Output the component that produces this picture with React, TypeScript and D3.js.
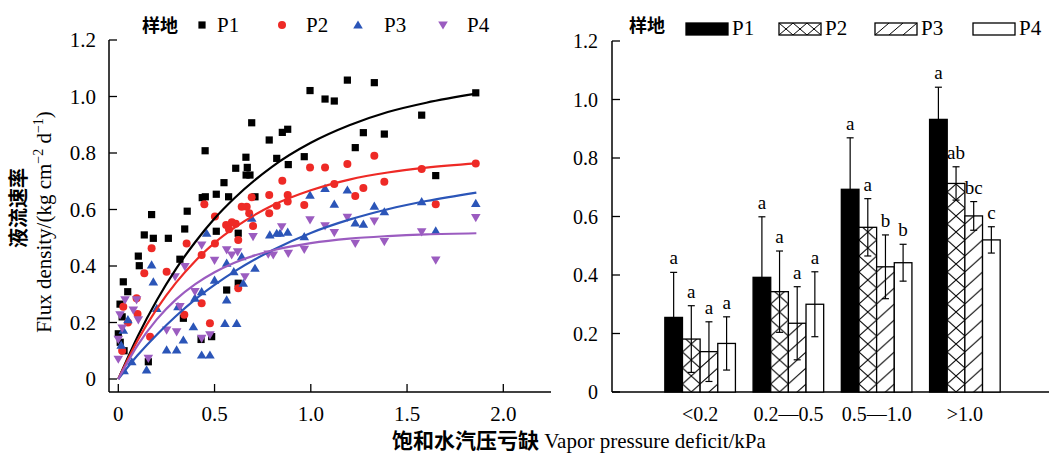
import React from 'react';
import * as d3 from 'd3';

// ---------------- Data ----------------
const seriesNames = ['P1', 'P2', 'P3', 'P4'];
const seriesColors = ['#000000', '#ee2a26', '#2b55b8', '#9b5cc0'];

// scatter: [VPD kPa, flux density]
const p1Points: [number, number][] = [
  [1.857, 1.013], [1.649, 0.72], [1.576, 0.934], [1.382, 0.867], [1.33, 1.049], [1.273, 0.872],
  [1.231, 0.819], [1.19, 1.058], [1.122, 0.984], [1.074, 0.991], [0.996, 1.021], [0.966, 0.787],
  [0.883, 0.759], [0.88, 0.884], [0.852, 0.873], [0.823, 0.781], [0.784, 0.846], [0.71, 0.645],
  [0.693, 0.907], [0.684, 0.722], [0.664, 0.722], [0.67, 0.749], [0.663, 0.785], [0.61, 0.746],
  [0.549, 0.695], [0.573, 0.645], [0.509, 0.654], [0.451, 0.808], [0.436, 0.642], [0.452, 0.645],
  [0.358, 0.594], [0.345, 0.531], [0.509, 0.523], [0.623, 0.516], [0.173, 0.582], [0.135, 0.51],
  [0.182, 0.498], [0.26, 0.498], [0.104, 0.435], [0.109, 0.401], [0.32, 0.424], [0.026, 0.344],
  [0.049, 0.309], [0.009, 0.265], [0.0, 0.16], [0.01, 0.13], [0.02, 0.22], [0.156, 0.061],
  [0.338, 0.215], [0.563, 0.315], [0.623, 0.339], [0.485, 0.15], [0.43, 0.14], [0.03, 0.1],
];
const p2Points: [number, number][] = [
  [1.857, 0.763], [1.649, 0.619], [1.576, 0.743], [1.382, 0.698], [1.33, 0.79], [1.273, 0.676],
  [1.231, 0.648], [1.19, 0.761], [1.122, 0.69], [1.074, 0.749], [0.996, 0.749], [0.966, 0.616],
  [0.88, 0.651], [0.88, 0.628], [0.852, 0.702], [0.823, 0.613], [0.784, 0.651], [0.784, 0.587],
  [0.693, 0.643], [0.70, 0.542], [0.667, 0.61], [0.68, 0.587], [0.641, 0.61], [0.61, 0.55],
  [0.59, 0.555], [0.56, 0.545], [0.575, 0.53], [0.502, 0.575], [0.447, 0.619], [0.623, 0.492],
  [0.502, 0.48], [0.433, 0.439], [0.355, 0.48], [0.173, 0.463], [0.135, 0.374], [0.251, 0.38],
  [0.095, 0.286], [0.026, 0.256], [0.433, 0.268], [0.476, 0.197], [0.165, 0.15], [0.343, 0.227],
  [0.623, 0.321], [0.02, 0.1], [0.05, 0.2], [0.1, 0.23],
];
const p3Points: [number, number][] = [
  [1.857, 0.622], [1.649, 0.524], [1.576, 0.628], [1.382, 0.592], [1.33, 0.612], [1.273, 0.548],
  [1.231, 0.553], [1.19, 0.669], [1.122, 0.619], [1.074, 0.675], [0.996, 0.651], [0.966, 0.504],
  [0.88, 0.52], [0.84, 0.516], [0.823, 0.516], [0.787, 0.51], [0.693, 0.569], [0.71, 0.392],
  [0.649, 0.339], [0.641, 0.433], [0.563, 0.41], [0.459, 0.516], [0.173, 0.404], [0.182, 0.344],
  [0.398, 0.286], [0.433, 0.309], [0.31, 0.256], [0.39, 0.185], [0.554, 0.197], [0.615, 0.197],
  [0.563, 0.28], [0.251, 0.103], [0.303, 0.103], [0.147, 0.032], [0.433, 0.085], [0.476, 0.085],
  [0.338, 0.138], [0.07, 0.061], [0.03, 0.03], [0.026, 0.173], [0.015, 0.12], [0.05, 0.21],
  [0.2, 0.25], [0.5, 0.35], [0.6, 0.38],
];
const p4Points: [number, number][] = [
  [1.857, 0.571], [1.649, 0.421], [1.576, 0.521], [1.382, 0.486], [1.33, 0.559], [1.231, 0.48],
  [1.19, 0.572], [1.122, 0.518], [1.074, 0.542], [0.996, 0.563], [0.966, 0.459], [0.883, 0.445],
  [0.849, 0.539], [0.805, 0.439], [0.779, 0.442], [0.70, 0.504], [0.658, 0.362], [0.563, 0.457],
  [0.589, 0.439], [0.433, 0.474], [0.346, 0.398], [0.295, 0.362], [0.398, 0.309], [0.32, 0.256],
  [0.251, 0.173], [0.303, 0.167], [0.433, 0.144], [0.476, 0.156], [0.156, 0.073], [0.035, 0.28],
  [0.095, 0.28], [0.078, 0.244], [0.104, 0.209], [0.009, 0.227], [0.0, 0.14], [0.0, 0.07],
  [0.02, 0.18], [0.5, 0.42], [0.62, 0.45],
];

// fitted curves
const curveX = [0, 0.1, 0.2, 0.3, 0.4, 0.5, 0.6, 0.8, 1.0, 1.2, 1.4, 1.6, 1.86];
const p1Curve = [0, 0.15, 0.279, 0.39, 0.485, 0.568, 0.638, 0.752, 0.836, 0.898, 0.945, 0.978, 1.01];
const p2Curve = [0, 0.136, 0.248, 0.341, 0.418, 0.482, 0.534, 0.614, 0.668, 0.706, 0.731, 0.748, 0.763];
const p3Curve = [0, 0.084, 0.157, 0.223, 0.282, 0.333, 0.379, 0.456, 0.517, 0.564, 0.601, 0.63, 0.66];
const p4Curve = [0, 0.119, 0.211, 0.282, 0.336, 0.378, 0.411, 0.455, 0.481, 0.497, 0.506, 0.512, 0.516];

const xTicksLeft = [0, 0.5, 1.0, 1.5, 2.0];
const yTicks = [0, 0.2, 0.4, 0.6, 0.8, 1.0, 1.2];

// bar chart
const categories = ['<0.2', '0.2—0.5', '0.5—1.0', '>1.0'];
const barP1 = [0.255, 0.392, 0.693, 0.932];
const barP2 = [0.181, 0.343, 0.563, 0.713];
const barP3 = [0.138, 0.235, 0.428, 0.602];
const barP4 = [0.166, 0.300, 0.442, 0.520];
const errP1 = [0.154, 0.207, 0.176, 0.110];
const errP2 = [0.114, 0.139, 0.098, 0.057];
const errP3 = [0.102, 0.125, 0.109, 0.049];
const errP4 = [0.091, 0.111, 0.063, 0.045];
const letP1 = ['a', 'a', 'a', 'a'];
const letP2 = ['a', 'a', 'a', 'ab'];
const letP3 = ['a', 'a', 'b', 'bc'];
const letP4 = ['a', 'a', 'b', 'c'];

const legendTitle = '样地';
const yTitleCn = '液流速率';
const xTitleCn = '饱和水汽压亏缺';
const xTitleEn = ' Vapor pressure deficit/kPa';

const SERIF = '"Liberation Serif", "Times New Roman", serif';
const CJK = '"Noto Sans CJK SC", sans-serif';
const FS = 21;
const FSR = 20;

function fmt(v: number) {
  return v === 0 ? '0' : v.toFixed(1);
}

function Marker({ kind, x, y, color }: { kind: number; x: number; y: number; color: string }) {
  if (kind === 0) return <rect x={x - 3.6} y={y - 3.6} width={7.2} height={7.2} fill={color} />;
  if (kind === 1) return <circle cx={x} cy={y} r={4} fill={color} />;
  if (kind === 2)
    return <path d={`M${x},${y - 4.6}L${x + 4.8},${y + 3.6}L${x - 4.8},${y + 3.6}Z`} fill={color} />;
  return <path d={`M${x},${y + 4.6}L${x + 4.8},${y - 3.6}L${x - 4.8},${y - 3.6}Z`} fill={color} />;
}

export default function App() {
  // ---------- left scatter ----------
  const xL = d3.scaleLinear().domain([0, 2]).range([118.3, 503.3]);
  const yL = d3.scaleLinear().domain([0, 1.2]).range([379, 40]);
  const axisYL = 392;
  const axisXL = 109;
  const points = [p1Points, p2Points, p3Points, p4Points];
  const curves = [p1Curve, p2Curve, p3Curve, p4Curve];
  const line = d3
    .line<number>()
    .x((_, i) => xL(curveX[i]))
    .y((d) => yL(d))
    .curve(d3.curveMonotoneX);

  // ---------- right bars ----------
  const yR = d3.scaleLinear().domain([0, 1.2]).range([392, 41]);
  const axisXR = 612;
  const xR = d3.scaleBand<string>().domain(categories).range([656, 1009]).paddingInner(0.2).paddingOuter(0.1);
  const xS = d3.scaleBand<string>().domain(seriesNames).range([0, xR.bandwidth()]).padding(0);
  const bw = xS.bandwidth();
  const barVals = [barP1, barP2, barP3, barP4];
  const errVals = [errP1, errP2, errP3, errP4];
  const lets = [letP1, letP2, letP3, letP4];
  const barStart0 = xR(categories[0])!;
  const fills = ['#000', 'url(#crossPat)', 'url(#slashPat)', '#fff'];

  const legendL = [
    { mx: 202, tx: 217 },
    { mx: 282, tx: 306 },
    { mx: 358, tx: 384 },
    { mx: 443, tx: 467 },
  ];
  const legendR = [686, 779, 875, 973];
  const ph = 16;

  return (
    <svg
      width={1049}
      height={454}
      style={{ position: 'absolute', left: 0, top: 0, background: '#fff' }}
      fontFamily={SERIF}
    >
      <defs>
        <pattern id="crossPat" patternUnits="userSpaceOnUse" x={barStart0} y={0} width={bw} height={ph}>
          <rect width={bw} height={ph} fill="#fff" />
          <path d={`M0,0L${bw},${ph}M${bw},0L0,${ph}`} stroke="#000" strokeWidth={1} />
        </pattern>
        <pattern id="slashPat" patternUnits="userSpaceOnUse" x={barStart0} y={0} width={bw} height={ph}>
          <rect width={bw} height={ph} fill="#fff" />
          <path d={`M0,${ph}L${bw},0M${-bw},${ph}L0,0M${bw},${ph}L${2 * bw},0`} stroke="#000" strokeWidth={1} />
        </pattern>
        <pattern id="crossLeg" patternUnits="userSpaceOnUse" x={779} y={23} width={14} height={12}>
          <rect width={14} height={12} fill="#fff" />
          <path d="M0,0L14,12M14,0L0,12" stroke="#000" strokeWidth={1} />
        </pattern>
        <pattern id="slashLeg" patternUnits="userSpaceOnUse" x={875} y={23} width={14} height={12}>
          <rect width={14} height={12} fill="#fff" />
          <path d="M0,12L14,0M-14,12L0,0M14,12L28,0" stroke="#000" strokeWidth={1} />
        </pattern>
      </defs>

      {/* ===== Left panel ===== */}
      <text x={142} y={32} fontFamily={CJK} fontWeight={700} fontSize={18}>
        {legendTitle}
      </text>
      {seriesNames.map((n, i) => (
        <g key={n}>
          <Marker kind={i} x={legendL[i].mx} y={25} color={seriesColors[i]} />
          <text x={legendL[i].tx} y={32} fontSize={FS}>
            {n}
          </text>
        </g>
      ))}

      <line x1={axisXL} x2={axisXL} y1={yL(1.2)} y2={axisYL} stroke="#000" strokeWidth={1.5} />
      <line x1={axisXL} x2={551} y1={axisYL} y2={axisYL} stroke="#000" strokeWidth={1.5} />
      {yTicks.map((t) => (
        <g key={'yl' + t}>
          <line x1={axisXL} x2={axisXL + 8} y1={yL(t)} y2={yL(t)} stroke="#000" strokeWidth={1.3} />
          <text x={axisXL - 13} y={yL(t)} dy="0.35em" textAnchor="end" fontSize={FS}>
            {fmt(t)}
          </text>
        </g>
      ))}
      {xTicksLeft.map((t) => (
        <g key={'xl' + t}>
          <line x1={xL(t)} x2={xL(t)} y1={axisYL} y2={axisYL - 8} stroke="#000" strokeWidth={1.3} />
          <text x={xL(t)} y={414} dy="0.35em" textAnchor="middle" fontSize={FS}>
            {fmt(t)}
          </text>
        </g>
      ))}

      {points.map((pts, si) => (
        <g key={'pts' + si}>
          {pts.map((p, j) => (
            <Marker key={j} kind={si} x={xL(p[0])} y={yL(p[1])} color={seriesColors[si]} />
          ))}
        </g>
      ))}
      {curves.map((c, si) => (
        <path key={'c' + si} d={line(c) || ''} fill="none" stroke={seriesColors[si]} strokeWidth={2.2} />
      ))}

      <g transform="translate(19,208) rotate(-90)">
        <text textAnchor="middle" dy="0.35em" fontFamily={CJK} fontWeight={700} fontSize={20}>
          {yTitleCn}
        </text>
      </g>
      <g transform="translate(44,222) rotate(-90)">
        <text textAnchor="middle" dy="0.35em" fontSize={FS}>
          Flux density/(kg cm
          <tspan dy={-8} fontSize={14}>−2</tspan>
          <tspan dy={8}> d</tspan>
          <tspan dy={-8} fontSize={14}>−1</tspan>
          <tspan dy={8}>)</tspan>
        </text>
      </g>

      <text x={392} y={448} fontSize={21}>
        <tspan fontFamily={CJK} fontWeight={700} fontSize={21}>
          {xTitleCn}
        </tspan>
        <tspan>{xTitleEn}</tspan>
      </text>

      {/* ===== Right panel ===== */}
      <text x={629} y={32} fontFamily={CJK} fontWeight={700} fontSize={18}>
        {legendTitle}
      </text>
      {seriesNames.map((n, i) => (
        <g key={'lr' + n}>
          <rect
            x={legendR[i]}
            y={23}
            width={42}
            height={12}
            fill={i === 0 ? '#000' : i === 1 ? 'url(#crossLeg)' : i === 2 ? 'url(#slashLeg)' : '#fff'}
            stroke="#000"
            strokeWidth={1.3}
          />
          <text x={legendR[i] + 46} y={35} fontSize={FS}>
            {n}
          </text>
        </g>
      ))}

      <line x1={axisXR} x2={axisXR} y1={yR(1.2)} y2={yR(0)} stroke="#000" strokeWidth={1.5} />
      <line x1={axisXR} x2={1049} y1={yR(0)} y2={yR(0)} stroke="#000" strokeWidth={1.5} />
      {yTicks.map((t) => (
        <g key={'yr' + t}>
          <line x1={axisXR} x2={axisXR + 8} y1={yR(t)} y2={yR(t)} stroke="#000" strokeWidth={1.3} />
          <text x={axisXR - 14} y={yR(t)} dy="0.35em" textAnchor="end" fontSize={FSR}>
            {fmt(t)}
          </text>
        </g>
      ))}

      {categories.map((c, ci) => (
        <g key={'cat' + c}>
          {seriesNames.map((s, si) => {
            const x0 = xR(c)! + xS(s)!;
            const v = barVals[si][ci];
            const e = errVals[si][ci];
            const cx = x0 + bw / 2;
            return (
              <g key={s}>
                <rect
                  x={x0}
                  y={yR(v)}
                  width={bw}
                  height={yR(0) - yR(v)}
                  fill={fills[si]}
                  stroke="#000"
                  strokeWidth={1.3}
                />
                <line x1={cx} x2={cx} y1={yR(v + e)} y2={yR(v - e)} stroke="#000" strokeWidth={1.2} />
                <line x1={cx - 3.5} x2={cx + 3.5} y1={yR(v + e)} y2={yR(v + e)} stroke="#000" strokeWidth={1.2} />
                <line x1={cx - 3.5} x2={cx + 3.5} y1={yR(v - e)} y2={yR(v - e)} stroke="#000" strokeWidth={1.2} />
                <text x={cx} y={yR(v + e) - 8} textAnchor="middle" fontSize={19}>
                  {lets[si][ci]}
                </text>
              </g>
            );
          })}
          <text x={xR(c)! + xR.bandwidth() / 2} y={414} dy="0.35em" textAnchor="middle" fontSize={FSR}>
            {c}
          </text>
        </g>
      ))}
    </svg>
  );
}
